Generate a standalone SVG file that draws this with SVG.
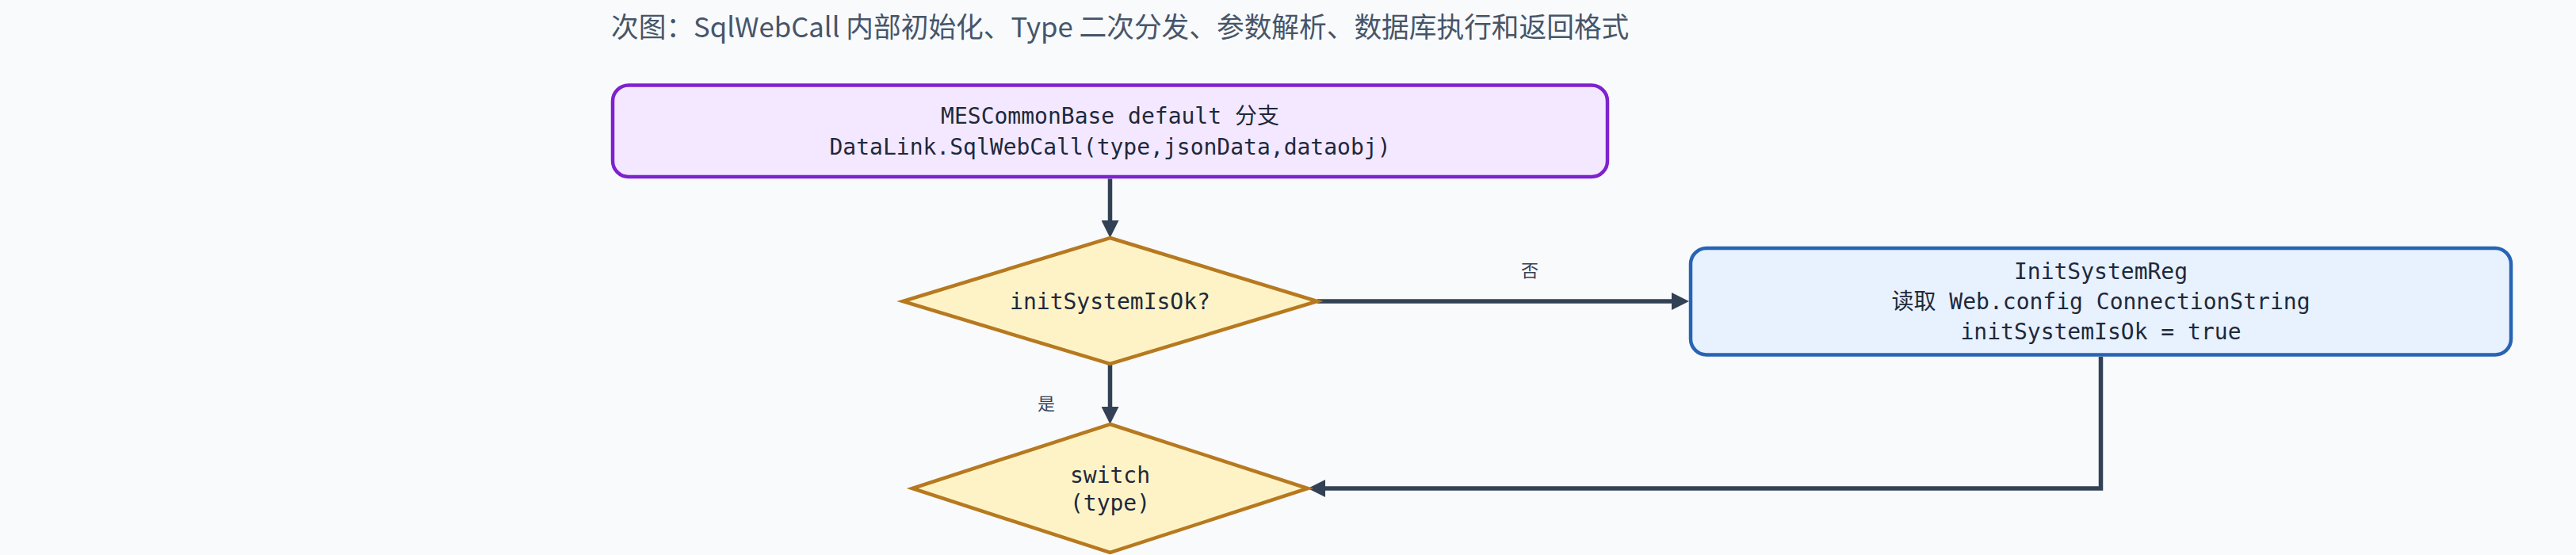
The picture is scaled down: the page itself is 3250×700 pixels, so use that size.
<svg xmlns="http://www.w3.org/2000/svg" width="3250" height="700" viewBox="0 0 3250 700">
  <defs>
    <style>
      .bg { fill: #f8fafc; }
      .mono { font-family: "DejaVu Sans Mono", "Noto Sans CJK SC", monospace; font-size: 28px; fill: #1e293b; text-anchor: middle; dominant-baseline: central; }
      .lbl { font-family: "Noto Sans CJK SC", "DejaVu Sans", sans-serif; font-size: 22px; fill: #334155; text-anchor: middle; dominant-baseline: central; }
      .sub { font-family: "Noto Sans CJK SC", "DejaVu Sans", sans-serif; font-size: 34.7px; fill: #475569; }
      .purple { fill: #f3e8ff; stroke: #7e22ce; stroke-width: 4.5; }
      .blue { fill: #e8f1fe; stroke: #2764b4; stroke-width: 4.5; }
      .dec { fill: #fef3c7; stroke: #b7791f; stroke-width: 4.5; }
      .edge { fill: none; stroke: #334155; stroke-width: 5.5; stroke-linejoin: miter; marker-end: url(#arrow); }
    </style>
    <marker id="arrow" markerUnits="userSpaceOnUse" markerWidth="22" markerHeight="22" refX="12" refY="11" orient="auto">
      <path d="M0,0 L22,11 L0,22 z" fill="#334155"/>
    </marker>
  </defs>
  <rect class="bg" x="0" y="0" width="3250" height="700"/>
  <text class="sub" x="771" y="47">次图：SqlWebCall 内部初始化、Type 二次分发、参数解析、数据库执行和返回格式</text>

  <g id="edges">
    <path class="edge" d="M1400.5,225.5 V290"/>
    <path class="edge" d="M1662,380 H2121"/>
    <path class="edge" d="M1400.5,459 V525"/>
    <path class="edge" d="M2650.5,450 V616 H1660"/>
    <text class="lbl" x="1930" y="339">否</text>
    <text class="lbl" x="1320" y="507">是</text>
  </g>

  <g id="node-start">
    <rect class="purple" x="773" y="107.5" width="1255" height="115.5" rx="20" ry="20"/>
    <text class="mono" x="1400.5" y="146">MESCommonBase default 分支</text>
    <text class="mono" x="1400.5" y="185">DataLink.SqlWebCall(type,jsonData,dataobj)</text>
  </g>

  <g id="node-check">
    <polygon class="dec" points="1400.5,300 1662,380 1400.5,459 1139,380"/>
    <text class="mono" x="1400.5" y="380">initSystemIsOk?</text>
  </g>

  <g id="node-init">
    <rect class="blue" x="2133" y="313" width="1035" height="134.5" rx="20" ry="20"/>
    <text class="mono" x="2650.5" y="342">InitSystemReg</text>
    <text class="mono" x="2650.5" y="380">读取 Web.config ConnectionString</text>
    <text class="mono" x="2650.5" y="418">initSystemIsOk = true</text>
  </g>

  <g id="node-switch">
    <polygon class="dec" points="1400.5,535 1650,616 1400.5,697 1151,616"/>
    <text class="mono" x="1400.5" y="599">switch</text>
    <text class="mono" x="1400.5" y="634">(type)</text>
  </g>
</svg>
